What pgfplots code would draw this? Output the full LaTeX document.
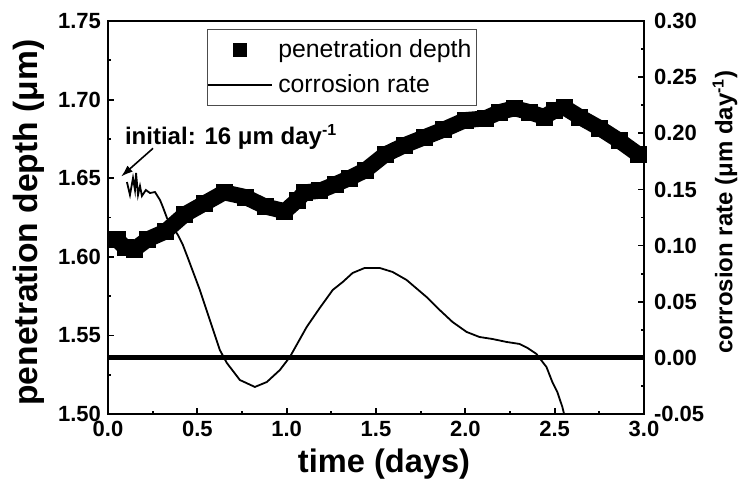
\documentclass[border=0pt]{standalone}
\usepackage{fontspec}
\setmainfont{Liberation Sans}
\usepackage{pgfplots}
\usepackage{pgfplotstable}
\pgfplotsset{compat=1.18}
\usetikzlibrary{arrows.meta}

% penetration depth (um) vs time (days)
\pgfplotstableread{
t     d
0.05  1.611
0.095 1.606
0.15  1.605
0.22  1.611
0.32  1.616
0.43  1.627
0.54  1.634
0.65  1.641
0.77  1.638
0.88  1.632
0.99  1.629
1.06  1.636
1.10  1.641
1.185 1.642
1.27  1.646
1.35  1.650
1.44  1.655
1.55  1.665
1.66  1.671
1.77  1.676
1.88  1.681
2.00  1.687
2.11  1.688
2.19  1.692
2.275 1.6945
2.36  1.692
2.44  1.689
2.50  1.693
2.555 1.695
2.64  1.689
2.75  1.682
2.86  1.674
2.97  1.665
}\depth

% corrosion rate (um/day) vs time (days)
\pgfplotstableread{
t     r
0.106 0.1566
0.123 0.1451
0.140 0.1602
0.151 0.1495
0.157 0.1647
0.168 0.1451
0.179 0.1531
0.190 0.1442
0.212 0.1495
0.235 0.1468
0.263 0.1477
0.291 0.1406
0.307 0.1344
0.330 0.1246
0.358 0.1175
0.391 0.1095
0.419 0.1006
0.447 0.0890
0.514 0.0605
0.570 0.0337
0.626 0.0070
0.665 -0.0045
0.738 -0.0197
0.822 -0.0259
0.889 -0.0215
0.962 -0.0108
1.018 0.0008
1.112 0.0275
1.185 0.0444
1.258 0.0605
1.314 0.0676
1.369 0.0756
1.437 0.0801
1.520 0.0801
1.593 0.0765
1.671 0.0694
1.783 0.0542
1.856 0.0427
1.928 0.0320
2.007 0.0231
2.079 0.0186
2.152 0.0168
2.230 0.0142
2.303 0.0124
2.348 0.0088
2.398 0.0035
2.415 -0.0001
2.454 -0.0081
2.487 -0.0215
2.515 -0.0304
2.543 -0.0437
2.554 -0.0508
}\rate

\pgfplotsset{
  base/.style={
    scale only axis, width=268pt, height=196.5pt,
    xmin=0, xmax=3,
    axis line style={-, line width=1.2pt},
    tick align=inside,
    major tick length=3pt, minor tick length=1.5pt,
    every tick/.style={black, line width=0.9pt},
    tick label style={font=\bfseries\fontsize{11}{12}\selectfont},
    /pgf/number format/assume math mode=true,
    minor y tick num=1,
  },
  sqlegend/.style={legend image code/.code={%
    \draw[##1, mark size=3.25pt] plot coordinates {(16pt,0pt)};}},
  lnlegend/.style={legend image code/.code={%
    \draw[##1] (0pt,0pt) -- (32pt,0pt);}},
}

\begin{document}
\begin{tikzpicture}
\begin{axis}[base,
  ymin=1.5, ymax=1.75,
  xtick={0,0.5,1,1.5,2,2.5,3}, minor x tick num=1,
  ytick={1.50,1.55,1.60,1.65,1.70,1.75},
  xtick pos=left, ytick pos=left,
  xticklabel style={/pgf/number format/.cd, fixed, fixed zerofill, precision=1},
  yticklabel style={/pgf/number format/.cd, fixed, fixed zerofill, precision=2},
  xlabel={time (days)}, ylabel={penetration depth (μm)},
  xlabel style={font=\bfseries\fontsize{16.3}{18}\selectfont,
    at={(axis description cs:0.515,-0.150)}, anchor=base},
  ylabel style={font=\bfseries\fontsize{16.8}{18}\selectfont,
    at={(axis description cs:-0.147,0.487)}, anchor=center},
  legend style={at={(0.1847,0.9796)}, anchor=north west, draw=black!70,
    line width=0.5pt, font=\fontsize{12.4}{13}\selectfont,
    inner xsep=0pt, inner ysep=3pt, row sep=3pt,
    nodes={inner xsep=2.5pt}},
  legend cell align=left,
]
\addplot[black, line width=8pt, line join=round, forget plot] table[x=t, y=d] {\depth};
\addplot[only marks, mark=square*, mark size=4pt, black, sqlegend]
  table[x=t, y=d] {\depth};
\addlegendentry{penetration depth}
\addlegendimage{black, line width=0.9pt, lnlegend}
\addlegendentry{corrosion rate}
\node[anchor=base west, font=\bfseries\fontsize{12}{13}\selectfont]
  at (axis cs:0.056,1.6715) {initial: 16 μm day\textsuperscript{-1}};
\draw[-{Latex[length=6pt,width=4pt]}, line width=0.8pt]
  (axis cs:0.252,1.669) -- (axis cs:0.073,1.651);
\end{axis}
\begin{axis}[base,
  ymin=-0.05, ymax=0.30,
  axis x line=none, axis y line*=right,
  ytick={-0.05,0,0.05,0.10,0.15,0.20,0.25,0.30},
  yticklabel style={xshift=1.5pt, /pgf/number format/.cd, fixed, fixed zerofill, precision=2},
  ylabel={corrosion rate (μm day\textsuperscript{-1})},
  ylabel style={font=\bfseries\fontsize{12}{13}\selectfont,
    at={(axis description cs:1.151,0.514)}, anchor=center},
]
\addplot[black, line width=2.5pt] coordinates {(0,0) (3,0)};
\addplot[black, line width=0.9pt] table[x=t, y=r] {\rate};
\end{axis}
\pgfresetboundingbox
\useasboundingbox (-54pt,-32.5pt) rectangle (318pt,207pt);
\end{tikzpicture}
\end{document}
